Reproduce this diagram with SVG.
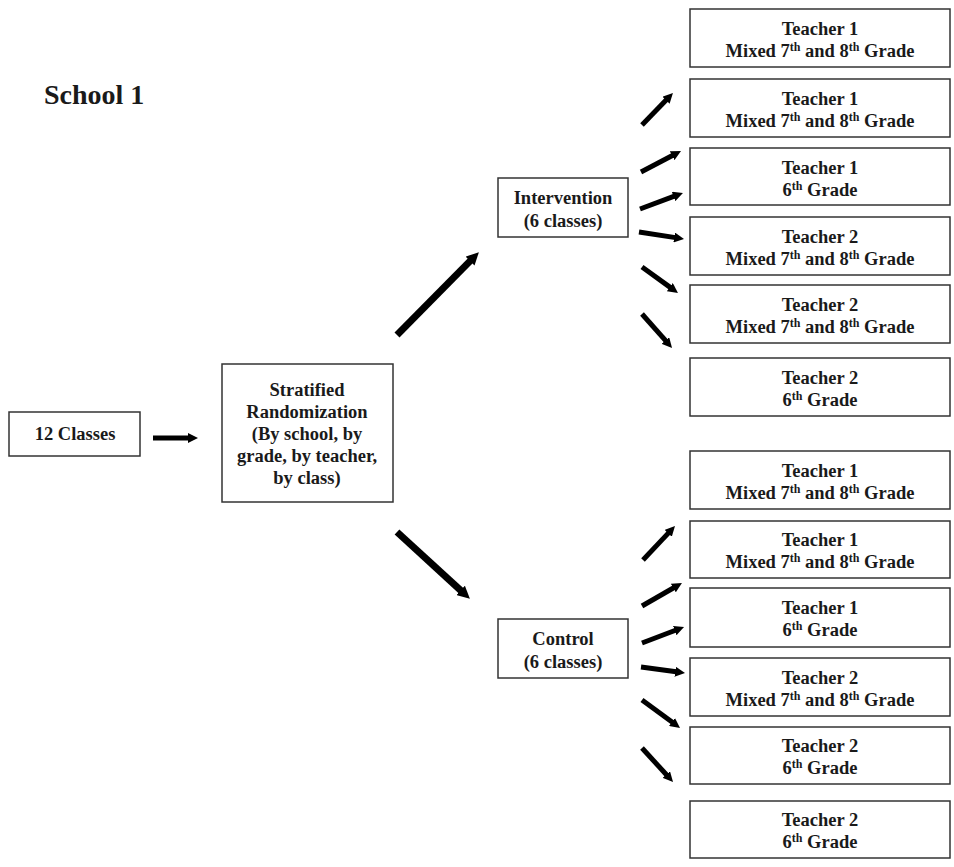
<svg xmlns="http://www.w3.org/2000/svg" width="954" height="867" viewBox="0 0 954 867">
<style>
.box{fill:#fff;stroke:#333;stroke-width:1.5}
text{font-family:"Liberation Serif","Times New Roman",serif;font-weight:bold;font-size:18.5px;fill:#1a1a1a;text-anchor:middle}
.sup{font-size:12px}
.title{font-size:28px;text-anchor:start}
.a{stroke:#000;stroke-width:5;fill:none;marker-end:url(#ah)}
.big{stroke-width:7}
</style>
<defs>
<marker id="ah" viewBox="0 0 10 10" refX="3" refY="5" markerWidth="2" markerHeight="2" orient="auto" markerUnits="strokeWidth">
<path d="M0,0 L10,5 L0,10 z" fill="#000"/>
</marker>
<marker id="ahb" viewBox="0 0 10 10" refX="3" refY="5" markerWidth="1.8" markerHeight="1.8" orient="auto" markerUnits="strokeWidth">
<path d="M0,0 L10,5 L0,10 z" fill="#000"/>
</marker>
</defs>
<rect width="954" height="867" fill="#fff"/>
<text class="title" x="44" y="104">School 1</text>

<g id="n-classes"><rect class="box" x="9" y="412" width="131" height="44"/><text x="75" y="440">12 Classes</text></g>
<g id="n-strat"><rect class="box" x="222" y="364" width="171" height="138"/>
<text x="307" y="396">Stratified</text><text x="307" y="418">Randomization</text><text x="307" y="440">(By school, by</text><text x="307" y="462">grade, by teacher,</text><text x="307" y="484">by class)</text></g>
<g id="n-int"><rect class="box" x="498" y="178" width="130" height="59"/><text x="563" y="204">Intervention</text><text x="563" y="227">(6 classes)</text></g>
<g id="n-ctl"><rect class="box" x="498" y="619" width="130" height="59"/><text x="563" y="645">Control</text><text x="563" y="668">(6 classes)</text></g>

<g id="n-i1"><rect class="box" x="690" y="9" width="260" height="58"/><text x="820" y="35">Teacher 1</text><text x="820" y="57">Mixed 7<tspan class="sup" dy="-6">th</tspan><tspan dy="6"> and 8</tspan><tspan class="sup" dy="-6">th</tspan><tspan dy="6"> Grade</tspan></text></g>
<g id="n-i2"><rect class="box" x="690" y="79" width="260" height="58"/><text x="820" y="105">Teacher 1</text><text x="820" y="127">Mixed 7<tspan class="sup" dy="-6">th</tspan><tspan dy="6"> and 8</tspan><tspan class="sup" dy="-6">th</tspan><tspan dy="6"> Grade</tspan></text></g>
<g id="n-i3"><rect class="box" x="690" y="148" width="260" height="57"/><text x="820" y="174">Teacher 1</text><text x="820" y="196">6<tspan class="sup" dy="-6">th</tspan><tspan dy="6"> Grade</tspan></text></g>
<g id="n-i4"><rect class="box" x="690" y="217" width="260" height="58"/><text x="820" y="243">Teacher 2</text><text x="820" y="265">Mixed 7<tspan class="sup" dy="-6">th</tspan><tspan dy="6"> and 8</tspan><tspan class="sup" dy="-6">th</tspan><tspan dy="6"> Grade</tspan></text></g>
<g id="n-i5"><rect class="box" x="690" y="285" width="260" height="58"/><text x="820" y="311">Teacher 2</text><text x="820" y="333">Mixed 7<tspan class="sup" dy="-6">th</tspan><tspan dy="6"> and 8</tspan><tspan class="sup" dy="-6">th</tspan><tspan dy="6"> Grade</tspan></text></g>
<g id="n-i6"><rect class="box" x="690" y="358" width="260" height="58"/><text x="820" y="384">Teacher 2</text><text x="820" y="406">6<tspan class="sup" dy="-6">th</tspan><tspan dy="6"> Grade</tspan></text></g>

<g id="n-c1"><rect class="box" x="690" y="451" width="260" height="58"/><text x="820" y="477">Teacher 1</text><text x="820" y="499">Mixed 7<tspan class="sup" dy="-6">th</tspan><tspan dy="6"> and 8</tspan><tspan class="sup" dy="-6">th</tspan><tspan dy="6"> Grade</tspan></text></g>
<g id="n-c2"><rect class="box" x="690" y="521" width="260" height="57"/><text x="820" y="546">Teacher 1</text><text x="820" y="568">Mixed 7<tspan class="sup" dy="-6">th</tspan><tspan dy="6"> and 8</tspan><tspan class="sup" dy="-6">th</tspan><tspan dy="6"> Grade</tspan></text></g>
<g id="n-c3"><rect class="box" x="690" y="588" width="260" height="59"/><text x="820" y="614">Teacher 1</text><text x="820" y="636">6<tspan class="sup" dy="-6">th</tspan><tspan dy="6"> Grade</tspan></text></g>
<g id="n-c4"><rect class="box" x="690" y="658" width="260" height="58"/><text x="820" y="684">Teacher 2</text><text x="820" y="706">Mixed 7<tspan class="sup" dy="-6">th</tspan><tspan dy="6"> and 8</tspan><tspan class="sup" dy="-6">th</tspan><tspan dy="6"> Grade</tspan></text></g>
<g id="n-c5"><rect class="box" x="690" y="727" width="260" height="57"/><text x="820" y="752">Teacher 2</text><text x="820" y="774">6<tspan class="sup" dy="-6">th</tspan><tspan dy="6"> Grade</tspan></text></g>
<g id="n-c6"><rect class="box" x="690" y="801" width="260" height="57"/><text x="820" y="826">Teacher 2</text><text x="820" y="848">6<tspan class="sup" dy="-6">th</tspan><tspan dy="6"> Grade</tspan></text></g>

<g id="connectors">
<line class="a" x1="153" y1="438" x2="191" y2="438"/>
<line class="a big" style="marker-end:url(#ahb)" x1="397" y1="335" x2="472.7" y2="258.4"/>
<line class="a big" style="marker-end:url(#ahb)" x1="397" y1="532" x2="463.4" y2="592.9"/>
<line class="a" x1="642" y1="125" x2="668.1" y2="98"/>
<line class="a" x1="641" y1="172" x2="674.8" y2="154.3"/>
<line class="a" x1="640" y1="209" x2="676.4" y2="195.4"/>
<line class="a" x1="639" y1="232" x2="677.1" y2="237.9"/>
<line class="a" x1="642" y1="267" x2="672.3" y2="288.9"/>
<line class="a" x1="642" y1="314" x2="667.4" y2="342.7"/>
<line class="a" x1="643" y1="560" x2="670.2" y2="531.1"/>
<line class="a" x1="642" y1="606" x2="675.9" y2="586.5"/>
<line class="a" x1="642" y1="643" x2="677.5" y2="629.5"/>
<line class="a" x1="641" y1="667" x2="678.1" y2="672.1"/>
<line class="a" x1="642" y1="700" x2="674.4" y2="723.8"/>
<line class="a" x1="642" y1="748" x2="668.3" y2="776.8"/>
</g>
</svg>
